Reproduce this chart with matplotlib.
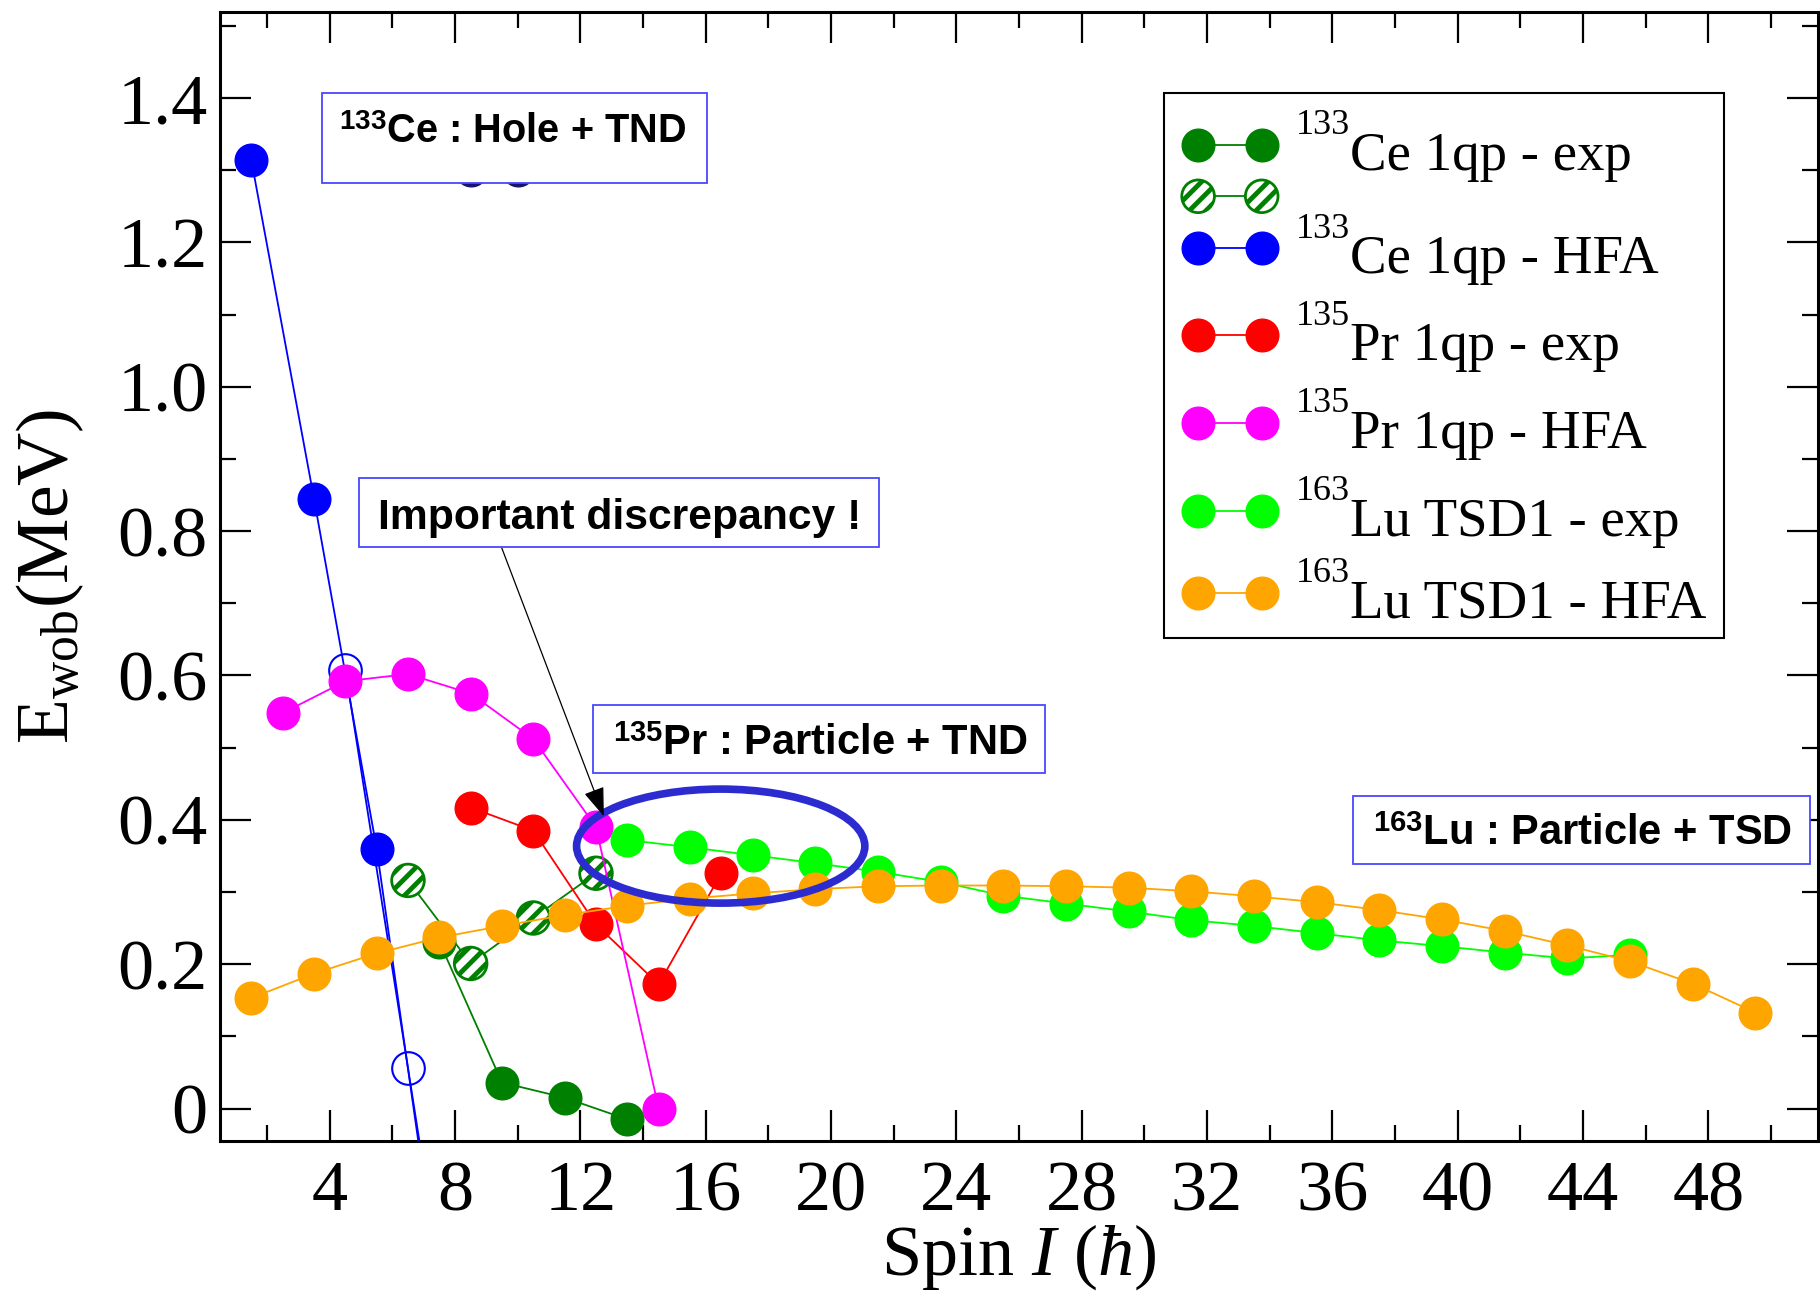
import numpy as np
import matplotlib.pyplot as plt
from matplotlib.patches import Ellipse, Rectangle
from matplotlib.ticker import MultipleLocator, FuncFormatter

plt.rcParams['font.family'] = 'serif'
plt.rcParams['font.serif'] = ['Liberation Serif', 'DejaVu Serif']
plt.rcParams['mathtext.fontset'] = 'custom'
plt.rcParams['mathtext.rm'] = 'Liberation Serif'
plt.rcParams['mathtext.it'] = 'Liberation Serif:italic'
plt.rcParams['mathtext.bf'] = 'Liberation Sans:bold'
plt.rcParams['hatch.linewidth'] = 3.5

# 133Ce experimental (two signature branches)
ce_exp_spin = [7.5, 9.5, 11.5, 13.5]
ce_exp_e = [0.231, 0.036, 0.015, -0.015]
ce_exp2_spin = [6.5, 8.5, 10.5, 12.5]
ce_exp2_e = [0.316, 0.201, 0.264, 0.326]
# 133Ce HFA
ce_hfa_spin = [1.5, 3.5, 5.5, 7.5]
ce_hfa_e = [1.314, 0.845, 0.360, -0.25]
ce_hfa2_spin = [4.5, 6.5, 8.5]
ce_hfa2_e = [0.608, 0.056, -0.50]
ce_hidden_spin = [8.5, 10.0]
ce_hidden_e = [1.30, 1.30]
# 135Pr
pr_exp_spin = [8.5, 10.5, 12.5, 14.5, 16.5]
pr_exp_e = [0.417, 0.385, 0.255, 0.172, 0.326]
pr_hfa_spin = [2.5, 4.5, 6.5, 8.5, 10.5, 12.5, 14.5]
pr_hfa_e = [0.548, 0.592, 0.602, 0.575, 0.512, 0.390, 0.0]
# 163Lu TSD1
lu_exp_spin = [13.5, 15.5, 17.5, 19.5, 21.5, 23.5, 25.5, 27.5, 29.5, 31.5,
               33.5, 35.5, 37.5, 39.5, 41.5, 43.5, 45.5]
lu_exp_e = [0.372, 0.362, 0.351, 0.340, 0.328, 0.314, 0.295, 0.284, 0.273, 0.261,
            0.253, 0.243, 0.233, 0.225, 0.216, 0.208, 0.213]
lu_hfa_spin = [1.5, 3.5, 5.5, 7.5, 9.5, 11.5, 13.5, 15.5, 17.5, 19.5, 21.5, 23.5,
               25.5, 27.5, 29.5, 31.5, 33.5, 35.5, 37.5, 39.5, 41.5, 43.5, 45.5,
               47.5, 49.5]
lu_hfa_e = [0.153, 0.187, 0.215, 0.237, 0.253, 0.268, 0.281, 0.291, 0.298, 0.304,
            0.308, 0.309, 0.309, 0.308, 0.306, 0.301, 0.294, 0.286, 0.275, 0.262,
            0.246, 0.226, 0.204, 0.173, 0.133]

leg_mass = ['133', '', '133', '135', '135', '163', '163']
leg_names = ['Ce 1qp - exp', '', 'Ce 1qp - HFA', 'Pr 1qp - exp', 'Pr 1qp - HFA',
             'Lu TSD1 - exp', 'Lu TSD1 - HFA']
leg_colors = ['#008000', '#008000', 'blue', 'red', 'magenta', '#00ff00', 'orange']

W, H = 1820, 1297
fig = plt.figure(figsize=(W / 100, H / 100), dpi=100)
AX_L, AX_R, AX_T, AX_B = 220, 1818, 11.5, 1141
ax = fig.add_axes([AX_L / W, 1 - AX_B / H, (AX_R - AX_L) / W, (AX_B - AX_T) / H])


def fx(px):
    return (px - AX_L) / (AX_R - AX_L)


def fy(py):
    return (AX_B - py) / (AX_B - AX_T)


ms = 23.5
lw = 1.3
dgreen = '#008000'

ax.plot(ce_hidden_spin, ce_hidden_e, 'o', color='#15156e', ms=ms, zorder=2)
ax.plot(ce_exp_spin, ce_exp_e, '-o', color=dgreen, ms=ms, lw=lw, zorder=3)
ax.plot(ce_exp2_spin, ce_exp2_e, '-', color=dgreen, lw=lw, zorder=3)
ax.scatter(ce_exp2_spin, ce_exp2_e, s=ms ** 2, facecolor='white',
           edgecolor=dgreen, hatch='//', linewidth=2, zorder=3.1)
ax.plot(ce_hfa_spin, ce_hfa_e, '-o', color='blue', ms=ms, lw=lw, zorder=4)
ax.plot(ce_hfa2_spin, ce_hfa2_e, '-o', color='blue', mfc='none', mew=1.5, ms=ms,
        lw=lw, zorder=4)
ax.plot(pr_exp_spin, pr_exp_e, '-o', color='red', ms=ms, lw=lw, zorder=5)
ax.plot(pr_hfa_spin, pr_hfa_e, '-o', color='magenta', ms=ms, lw=lw, zorder=6)
ax.plot(lu_exp_spin, lu_exp_e, '-o', color='#00ff00', ms=ms, lw=lw, zorder=7)
ax.plot(lu_hfa_spin, lu_hfa_e, '-o', color='orange', ms=ms, lw=lw, zorder=8)

ax.set_xlim(0.5, 51.5)
ax.set_ylim(-0.045, 1.52)
ax.xaxis.set_major_locator(MultipleLocator(4))
ax.xaxis.set_minor_locator(MultipleLocator(2))
ax.yaxis.set_major_locator(MultipleLocator(0.2))
ax.yaxis.set_minor_locator(MultipleLocator(0.1))
ax.yaxis.set_major_formatter(FuncFormatter(lambda v, p: '0' if abs(v) < 1e-9 else '%.1f' % v))
ax.tick_params(which='both', direction='in', top=True, right=True, width=1.6)
ax.tick_params(which='major', length=22, labelsize=52)
ax.tick_params(axis='x', which='major', pad=14)
ax.tick_params(axis='y', which='major', pad=9)
ax.tick_params(which='minor', length=11.5)
for s in ax.spines.values():
    s.set_linewidth(2.2)

ax.set_ylabel('E$_{\\mathrm{wob}}$(MeV)', fontsize=53)
ax.yaxis.set_label_coords(-0.084, 0.5)
ax.set_xlabel('Spin $I$ ($\\hbar$)', fontsize=52)
ax.xaxis.set_label_coords(0.5, -0.072)

# ellipse around the discrepancy region and arrow
ax.add_patch(Ellipse((16.48, 0.3636), 9.2, 0.158, fill=False, ec='#2b2bd0', lw=5.5, zorder=10))
ax.annotate('', xy=(12.75, 0.405), xytext=(9.49, 0.777),
            arrowprops=dict(arrowstyle='-|>,head_length=1.8,head_width=0.65',
                            color='black', lw=0.9, shrinkA=0, shrinkB=0,
                            mutation_scale=10), zorder=11)

# labelled boxes
boxes = [
    ((321.5, 92.8, 707, 183), (339, 143.3), '$^{\\mathbf{133}}$Ce : Hole + TND', 28.6),
    ((358.7, 478.2, 878.6, 546.7), (378, 528.5), 'Important discrepancy !', 30.7),
    ((593, 704.5, 1044.6, 773), (612.8, 755), '$^{\\mathbf{135}}$Pr : Particle + TND', 30),
    ((1353.4, 796.3, 1809.5, 863.6), (1373, 845), '$^{\\mathbf{163}}$Lu : Particle + TSD', 30),
]
for (x0, y0, x1, y1), (tx, ty), txt, fs in boxes:
    ax.add_patch(Rectangle((fx(x0), fy(y1)), fx(x1) - fx(x0), fy(y0) - fy(y1),
                           transform=ax.transAxes, fc='white', ec='#4848ff', lw=1.3,
                           zorder=12, clip_on=False))
    ax.text(fx(tx), fy(ty), txt, transform=ax.transAxes, fontsize=fs,
            family='Liberation Sans', weight='bold', va='baseline', ha='left', zorder=13)

# legend drawn by hand (xmgrace-like spacing)
ax.add_patch(Rectangle((fx(1164.4), fy(638)), fx(1724) - fx(1164.4), fy(92.7) - fy(638),
                       transform=ax.transAxes, fc='white', ec='black', lw=1.5,
                       zorder=20, clip_on=False))
row_y = [144.7, 196.3, 248, 335.2, 422.8, 510.8, 592.6]
key_x = [fx(1198.1), fx(1261.7)]
for i, (yy, mass, name, col) in enumerate(zip(row_y, leg_mass, leg_names, leg_colors)):
    ky = [fy(yy), fy(yy)]
    if i == 1:
        ax.plot(key_x, ky, '-', color=col, lw=lw, transform=ax.transAxes,
                clip_on=False, zorder=21)
        ax.scatter(key_x, ky, s=ms ** 2, facecolor='white', edgecolor=col, hatch='//',
                   linewidth=2, transform=ax.transAxes, clip_on=False, zorder=22)
        continue
    ax.plot(key_x, ky, '-o', color=col, ms=ms, lw=lw, transform=ax.transAxes,
            clip_on=False, zorder=21)
    ax.text(fx(1350.5), fy(yy + 25), name, transform=ax.transAxes, fontsize=39.5,
            va='baseline', ha='left', zorder=22)
    ax.text(fx(1350), fy(yy + 25 - 35.5), mass, transform=ax.transAxes, fontsize=26,
            va='baseline', ha='right', zorder=22)

fig.savefig('out.png', dpi=100)
